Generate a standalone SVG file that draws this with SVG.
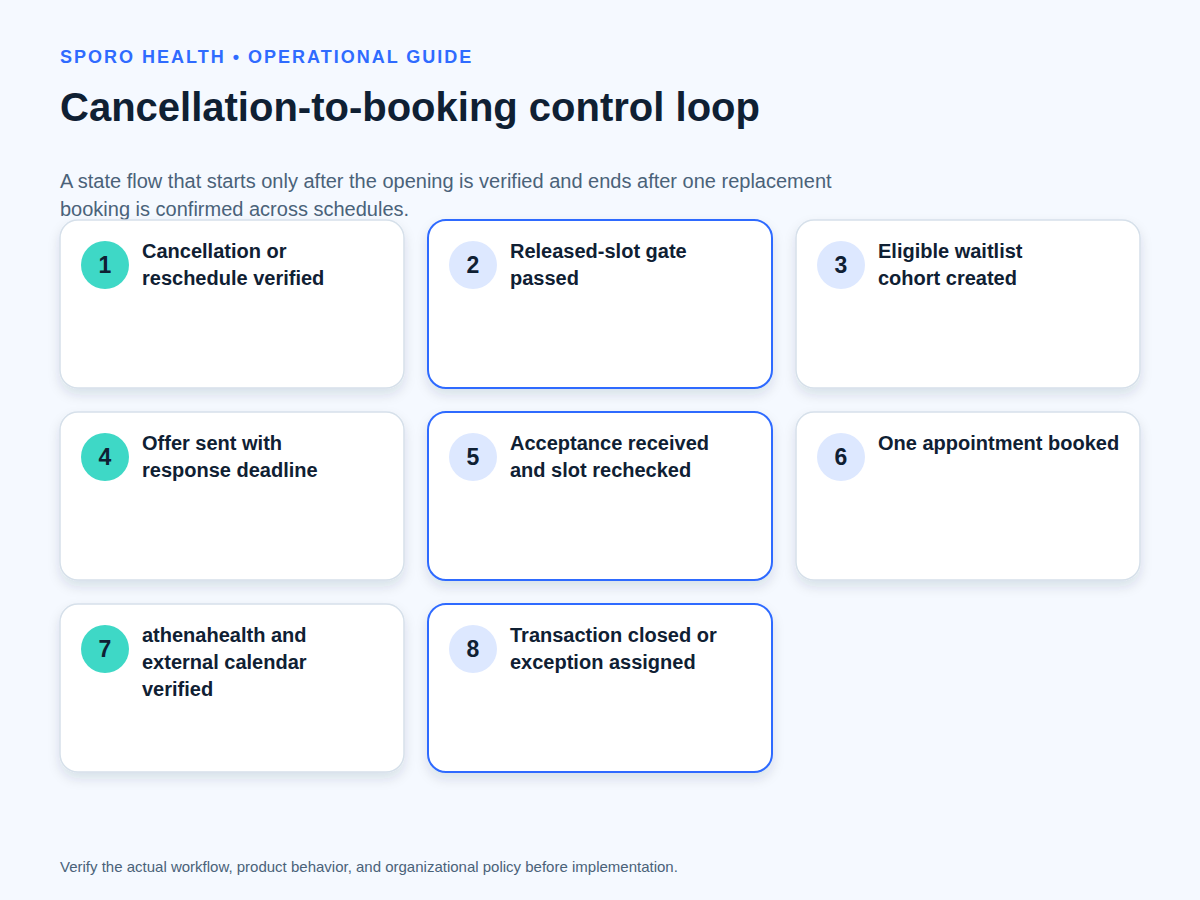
<svg xmlns="http://www.w3.org/2000/svg" width="1200" height="900" viewBox="0 0 1200 900">
<defs>
<style>
text{font-family:"Liberation Sans",Arial,sans-serif}
.card{fill:#fff;stroke:#d6e0ea;stroke-width:1.5}
.hl{fill:#fff;stroke:#2f6bff;stroke-width:2}
.teal{fill:#3ed8c6}
.lb{fill:#dde8ff}
.num{font-size:23px;font-weight:bold;fill:#0f2033;text-anchor:middle}
.lbl{font-size:20px;font-weight:bold;fill:#0f2033}
</style>
<filter id="sh" x="-10%" y="-10%" width="120%" height="130%"><feDropShadow dx="0" dy="6" stdDeviation="6" flood-color="#1a3050" flood-opacity="0.12"/></filter>
</defs>
<rect width="1200" height="900" fill="#f5f9ff"/>
<text x="60" y="63" font-size="18" font-weight="bold" fill="#2f6bff" letter-spacing="2">SPORO HEALTH • OPERATIONAL GUIDE</text>
<text x="60" y="121" font-size="40" font-weight="bold" fill="#0f2033">Cancellation-to-booking control loop</text>
<text x="60" y="188" font-size="20" fill="#4a6279">A state flow that starts only after the opening is verified and ends after one replacement</text>
<text x="60" y="216" font-size="20" fill="#4a6279">booking is confirmed across schedules.</text>
<g id="connectors"/>
<g id="n1"><rect class="card" filter="url(#sh)" x="60" y="220" width="344" height="168" rx="18"/><circle class="teal" cx="105" cy="265" r="24"/><text class="num" x="105" y="273">1</text><text class="lbl" x="142" y="258">Cancellation or</text><text class="lbl" x="142" y="285">reschedule verified</text></g>
<g id="n2"><rect class="hl" filter="url(#sh)" x="428" y="220" width="344" height="168" rx="18"/><circle class="lb" cx="473" cy="265" r="24"/><text class="num" x="473" y="273">2</text><text class="lbl" x="510" y="258">Released-slot gate</text><text class="lbl" x="510" y="285">passed</text></g>
<g id="n3"><rect class="card" filter="url(#sh)" x="796" y="220" width="344" height="168" rx="18"/><circle class="lb" cx="841" cy="265" r="24"/><text class="num" x="841" y="273">3</text><text class="lbl" x="878" y="258">Eligible waitlist</text><text class="lbl" x="878" y="285">cohort created</text></g>
<g id="n4"><rect class="card" filter="url(#sh)" x="60" y="412" width="344" height="168" rx="18"/><circle class="teal" cx="105" cy="457" r="24"/><text class="num" x="105" y="465">4</text><text class="lbl" x="142" y="450">Offer sent with</text><text class="lbl" x="142" y="477">response deadline</text></g>
<g id="n5"><rect class="hl" filter="url(#sh)" x="428" y="412" width="344" height="168" rx="18"/><circle class="lb" cx="473" cy="457" r="24"/><text class="num" x="473" y="465">5</text><text class="lbl" x="510" y="450">Acceptance received</text><text class="lbl" x="510" y="477">and slot rechecked</text></g>
<g id="n6"><rect class="card" filter="url(#sh)" x="796" y="412" width="344" height="168" rx="18"/><circle class="lb" cx="841" cy="457" r="24"/><text class="num" x="841" y="465">6</text><text class="lbl" x="878" y="450">One appointment booked</text></g>
<g id="n7"><rect class="card" filter="url(#sh)" x="60" y="604" width="344" height="168" rx="18"/><circle class="teal" cx="105" cy="649" r="24"/><text class="num" x="105" y="657">7</text><text class="lbl" x="142" y="642">athenahealth and</text><text class="lbl" x="142" y="669">external calendar</text><text class="lbl" x="142" y="696">verified</text></g>
<g id="n8"><rect class="hl" filter="url(#sh)" x="428" y="604" width="344" height="168" rx="18"/><circle class="lb" cx="473" cy="649" r="24"/><text class="num" x="473" y="657">8</text><text class="lbl" x="510" y="642">Transaction closed or</text><text class="lbl" x="510" y="669">exception assigned</text></g>
<text x="60" y="872" font-size="15" fill="#4a6279">Verify the actual workflow, product behavior, and organizational policy before implementation.</text>
</svg>
